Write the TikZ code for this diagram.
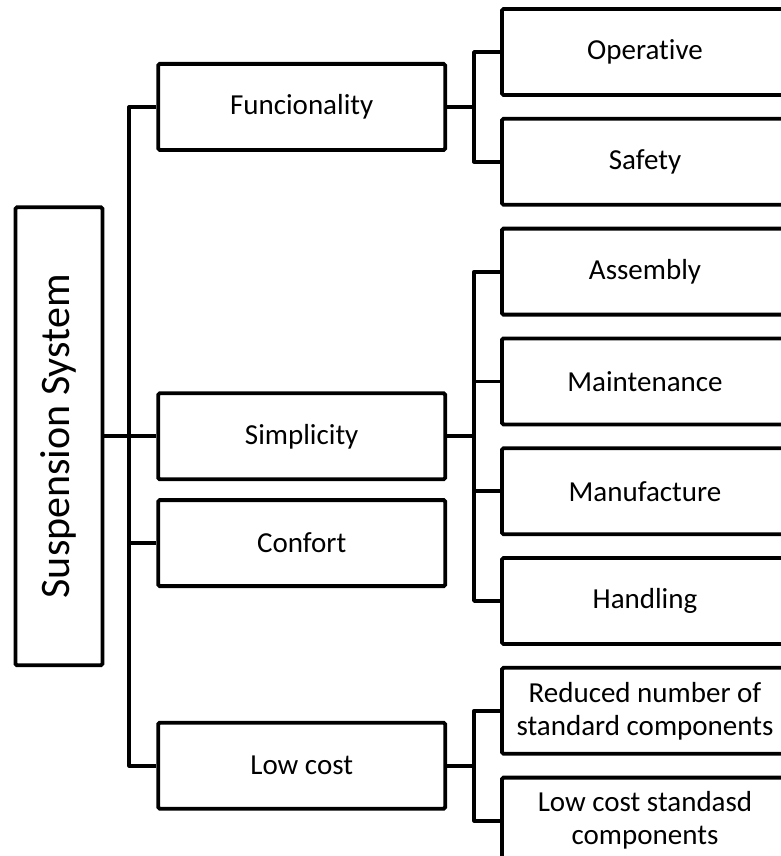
\documentclass[tikz,border=0pt]{standalone}
\usepackage{fontspec}
\setmainfont[Ligatures=NoCommon]{Carlito}
\usetikzlibrary{positioning,calc}

\newcommand{\boxfont}{\fontsize{29}{33}\selectfont}
\newcommand{\sysfont}{\fontsize{42}{48}\selectfont}

\begin{document}
\begin{tikzpicture}[x=1pt, y=-1pt,
  box/.style={draw, line width=3.8pt, rounded corners=1.5pt, align=center,
              inner sep=2pt, font=\boxfont},
  lvone/.style={box, minimum width=287pt, minimum height=86pt},
  lvtwo/.style={box, minimum width=286pt, minimum height=86pt},
  sysbox/.style={box, rotate=90, minimum width=458pt, minimum height=87pt,
                 font=\sysfont},
  link/.style={line width=3.8pt, line join=round}]
\clip (0,0) rectangle (781,856);
% right column
\node[lvtwo] (op) at (645,52) {Operative};
\node[lvtwo, below=20pt of op] (saf) {Safety};
\node[lvtwo, below=20pt of saf] (ass) {Assembly};
\node[lvtwo, below=20pt of ass] (mai) {Maintenance};
\node[lvtwo, below=20pt of mai] (man) {Manufacture};
\node[lvtwo, below=20pt of man] (han) {Handling};
\node[lvtwo, below=20pt of han] (red) {Reduced number of\\standard components};
\node[lvtwo, below=20pt of red] (std) {Low cost standasd\\components};
% middle column
\coordinate (fm) at ($(op.west)!.5!(saf.west)$);
\coordinate (sm) at ($(ass.west)!.5!(han.west)$);
\coordinate (lm) at ($(red.west)!.5!(std.west)$);
\node[lvone, left=53pt of fm] (fun) {Funcionality};
\node[lvone, left=53pt of sm] (sim) {Simplicity};
\node[lvone, below=17pt of sim] (conf) {Confort};
\node[lvone, left=53pt of lm] (low) {Low cost};
% root
\node[sysbox, anchor=south] (sys) at ($(sim.west)+(-52pt,0)$) {Suspension System};
% trunk
\draw[link] (sys) -- (sim);
\draw[link] (fun.west) -- ++(-27pt,0) |- (low.west);
\draw[link] (conf.west) -- ++(-27pt,0);
% brackets
\draw[link] (fun.east) -- ++(27pt,0) coordinate (fj);
\draw[link] (op.west) -| (fj) |- (saf.west);
\draw[link] (sim.east) -- ++(27pt,0) coordinate (sj);
\draw[link] (ass.west) -| (sj) |- (han.west);
\draw[link] (mai.west) -| (sj);
\draw[link] (man.west) -| (sj);
\draw[link] (low.east) -- ++(27pt,0) coordinate (lj);
\draw[link] (red.west) -| (lj) |- (std.west);
\end{tikzpicture}
\end{document}
